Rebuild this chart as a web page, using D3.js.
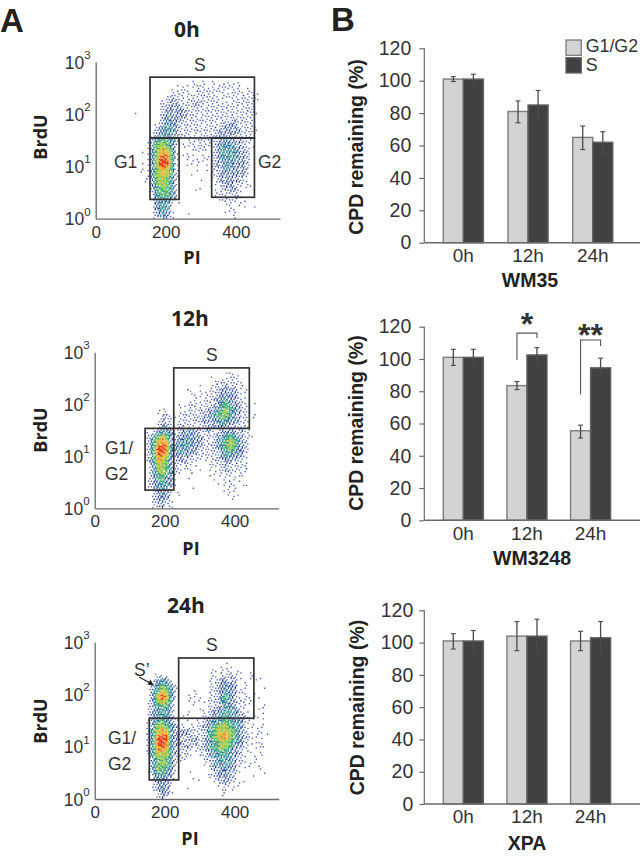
<!DOCTYPE html>
<html><head><meta charset="utf-8">
<script src="https://cdnjs.cloudflare.com/ajax/libs/d3/7.8.5/d3.min.js"></script>
<style>
html,body{margin:0;padding:0;background:#fff}
svg{display:block}
</style></head><body><svg id="c" width="640" height="858"></svg>
<script>
// ---------- bar chart data ----------
const timepoints = ["0h","12h","24h"];
const seriesNames = ["G1/G2","S"];
const wm35G = [101,81,65], wm35S = [101,85,62];
const wm35GLo = [99.5,74,57.5], wm35GHi = [102.5,87.5,72];
const wm35SLo = [97,76,55], wm35SHi = [104,94,68.5];
const wm3248G = [101,83.5,55.5], wm3248S = [101,102.5,94.5];
const wm3248GLo = [96,81,51], wm3248GHi = [106,86,59];
const wm3248SLo = [96,97.5,90], wm3248SHi = [106,107,100.5];
const xpaG = [101,104,101], xpaS = [101,104,103];
const xpaGLo = [96,95,95], xpaGHi = [105.5,113,107];
const xpaSLo = [94,94,94], xpaSHi = [107.5,114.5,113];
const yTicks = [0,20,40,60,80,100,120];
// ---------- flow gates [PI min, PI max, log BrdU min, log BrdU max] ----------
const gates0h = [[155,238,0.37,1.545],[155,453,1.545,2.71],[331,453,0.41,1.545]];
const gates12h = [[144,226,0.35,1.537],[226,442,1.537,2.70]];
const gates24h = [[156,240,0.365,1.546],[240,455,1.546,2.70]];
// ---------- flow density: rows top (log 2.76) to bottom (log 0.04),
// columns PI 110, 122, ... ; 0 = empty, 7 = hottest ----------
const density0h = [
"0000000000000000000000000000000000",
"0000000000000100001000000000000000",
"0000000000000010110101101000000000",
"0000000000101011111011110110100000",
"0000000001011101111111011101000000",
"0000000011110111111101111011110000",
"0000000112111111111111011111110000",
"0000001112211112111111111111110000",
"0000000122221111111111111111100000",
"0100000222222111111111111111110000",
"0000001222222111111111111111100000",
"0000001232221111111111112111100000",
"0000011233211111111111222111100000",
"0000012333211111111112222211110000",
"0000012333211111111122222211110000",
"0000123332111101111222222111000000",
"0000134443210111111122322211100000",
"0000245543101101111123332211000000",
"0000245654100011110123333221100000",
"0010246664101000100123333221000000",
"0001246764100110011123333221000000",
"0010247774100011100122332221100000",
"0000246764100100010122332221000000",
"0010245654100001001112322221000000",
"0000245654100010000112222221000000",
"0001145543100000100112222110000000",
"0000145543100100001012221211000000",
"0000134543100000000101222101000000",
"0000134443100001000011122110000000",
"0000034443100000000011111100000000",
"0000023332100000000001111010000000",
"0000023331000000000000110100000000",
"0000023331000000000000010010010000",
"0000013321000100000000101000000000",
"0000012321000000000000001000000000"];
const density12h = [
"0000000000000000000000000000000000",
"0000000000000000000000000000000000",
"0000000000000000000000010000000000",
"0000000000000000000100101100000000",
"0000000000000000000011111100000000",
"0000000000000000100111211010000000",
"0000000000000100010112222101000000",
"0000000000000010111112222110000000",
"0000000000000001011122322201000000",
"0000000000000011111123432110010000",
"0000000000011011111223443211000000",
"0000001010001111112234543211000000",
"0000000121011111122344542211010000",
"0000000211111111222234432211000000",
"0000001212011111121223322111000000",
"0000001321021111112222212111000000",
"0000012332112222112112222121100000",
"0000134543122322211122343221100000",
"0000245651223332211123454321000000",
"0001246663233332211123455321000000",
"0000247763333322111123454321000000",
"0000247763233222111112343221000000",
"0000246653222211111112332211000000",
"0000246642122111101111221211000000",
"0000135542111101000111211111000000",
"0000135543110100100101211101000000",
"0000134533110010001011111010000000",
"0000124432100100000101101010000000",
"0000123432100000000010110100000000",
"0000123332100010000001011001000000",
"0000012321000000000000101000000000",
"0000012321010000000000010100000000",
"0000012221000000000000001000000000",
"0000012211000000000000000000000000",
"0000011211000000000000000000000000"];
const density24h = [
"0000000000000000000000000000000000",
"0000000000000000000000000000000000",
"0000000000000000000000100000000000",
"0000000000000000000001010010000000",
"0000000000000000000101110100000000",
"0000001110000000000101121000100000",
"0000012321000000001012212010011000",
"0000023432000000000112322101010000",
"0000034543100000000122322110000100",
"0000134653100101001112332110010000",
"0000136763100010100123432101001000",
"0000135653000101011123422110100000",
"0000134543000010001112332111000100",
"0001123432000000101122332210001000",
"0000123432000100011223433211010100",
"0000123332101001011233432221010000",
"0000134432100100112334443321100100",
"0000135543211010122345543321010100",
"0000245653212211123455554321101000",
"0001246663222211123456654321011010",
"0000247773211122123456654322100100",
"0000247763222112112345543321101000",
"0000246763211211123445543211010100",
"0000246653211101112344432211101000",
"0000245553121100112333432210100100",
"0000134543111000011233332110010000",
"0000134543100100011233332110100000",
"0000135443100000001222322101001000",
"0000134432100010000122321110000100",
"0000023332000000001122221000010000",
"0000012321000001000112211010000000",
"0000012221000000000011210100000000",
"0000012321000100000001101000000000",
"0000001221000000000000100000000000",
"0000001210000000000000100000000000"];
const levelColors = ["#ffffff","#5267b4","#27408f","#2a7f9e","#46b082","#a4cf45","#f2b233","#e63b1f"];
const flowXTicks = [0,200,400];
const flowYTicks = [0,1,2,3];

const svg = d3.select("#c");
const defs = svg.append("defs");
defs.append("filter").attr("id","soft").append("feGaussianBlur").attr("stdDeviation",0.3);
const LIB = "'Liberation Sans',Arial,sans-serif", OPEN = "'Open Sans',sans-serif";
const INK = "#333335", AXIS = "#6a6a6a";

function label(g,x,y,t,size,opts={}){
  return g.append("text").attr("x",x).attr("y",y).text(t)
    .attr("font-family",opts.family||LIB).attr("font-size",size)
    .attr("font-weight",opts.bold?"700":"400").attr("fill",opts.fill||INK)
    .attr("text-anchor",opts.anchor||"start")
    .attr("transform",opts.rotate?`rotate(-90 ${x} ${y})`:null);
}

// fixed (non-random) dither threshold from a low-discrepancy lattice
const frac = v => v-Math.floor(v);

function flowPanel(o,density,gates,title){
  const g = svg.append("g");
  const x = d3.scaleLinear().domain([0,526]).range([o.left,o.right]);
  const y = d3.scaleLinear().domain([0,3]).range([o.bottom,o.top]);
  const at = (r,c)=>{const row=density[r]; return row&&row[c]?+row[c]:0;};
  const paths = levelColors.map(()=>[]);
  const STEP = 3; // sub-cells per table cell
  for(let fr=0;fr<STEP*density.length;fr++){
    for(let fc=0;fc<density[0].length*STEP;fc++){
      const r=fr/STEP-0.33, c=fc/STEP-0.33;
      const r0=Math.floor(r), c0=Math.floor(c), tr=r-r0, tc=c-c0;
      const v=(1-tr)*(1-tc)*at(r0,c0)+(1-tr)*tc*at(r0,c0+1)+tr*(1-tc)*at(r0+1,c0)+tr*tc*at(r0+1,c0+1);
      if(v<=0) continue;
      const t1=frac(fr*0.7548777+fc*0.5698403);
      const t2=frac(fr*0.3247+fc*0.8191);
      if(t1>=Math.min(1,Math.pow(v/4.5,1.15))) continue;
      const lv=Math.max(1,Math.min(7,Math.round(v+(t2-0.5)*1.5)));
      const px0=x(104+fc*4), px1=x(104+(fc+1)*4), py0=y(2.8-fr*0.08/STEP), py1=y(2.8-(fr+1)*0.08/STEP);
      paths[lv].push(`M${px0.toFixed(2)},${py0.toFixed(2)}H${px1.toFixed(2)}V${py1.toFixed(2)}H${px0.toFixed(2)}Z`);
    }
  }
  const dots = g.append("g").attr("filter","url(#soft)");
  paths.forEach((d,i)=>{ if(d.length) dots.append("path").attr("d",d.join("")).attr("fill",levelColors[i]); });
  const ax = g.append("g").attr("transform",`translate(0,${o.bottom})`)
    .call(d3.axisBottom(x).tickValues(flowXTicks).tickSize(0).tickPadding(7));
  ax.selectAll("text").attr("font-family",LIB).attr("font-size",17).attr("fill",INK);
  ax.select(".domain").attr("stroke",AXIS).attr("stroke-width",1.3);
  const ay = g.append("g").attr("transform",`translate(${o.left},0)`)
    .call(d3.axisLeft(y).tickValues(flowYTicks).tickSize(0).tickPadding(0).tickFormat(""));
  ay.select(".domain").attr("stroke",AXIS).attr("stroke-width",1.3);
  ay.selectAll(".tick text").each(function(d){
    const t = d3.select(this).attr("font-family",LIB).attr("font-size",17.5).attr("fill",INK)
      .attr("x",-5).attr("dy","0.35em");
    t.append("tspan").text("10");
    t.append("tspan").text(d).attr("font-size",11.5).attr("dy","-0.85em");
  });
  gates.forEach(b=>{
    g.append("rect").attr("x",x(b[0])).attr("width",x(b[1])-x(b[0]))
      .attr("y",y(b[3])).attr("height",y(b[2])-y(b[3]))
      .attr("fill","none").attr("stroke","#333335").attr("stroke-width",1.7);
  });
  label(g,o.titleX,o.titleY,title,21,{family:OPEN,bold:true,anchor:"middle",fill:"#222"});
  label(g,o.brduX,o.brduY,"BrdU",18,{family:OPEN,bold:true,anchor:"middle",rotate:true,fill:"#222"});
  label(g,o.piX,o.piY,"PI",18,{family:OPEN,bold:true,anchor:"middle",fill:"#222"});
  (o.texts||[]).forEach(t=>label(g,t[0],t[1],t[2],17.5));
  return g;
}

const p0 = flowPanel({left:95.7,right:280,top:62,bottom:218.7,titleX:187,titleY:37,brduX:46.5,brduY:137,piX:192,piY:264,
  texts:[[194,71,"S"],[114,168,"G1"],[258,168,"G2"]]},density0h,gates0h,"0h");
const p1 = flowPanel({left:94.7,right:278.7,top:352.3,bottom:508.3,titleX:190,titleY:326,brduX:46.5,brduY:430,piX:191,piY:555,
  texts:[[206,361,"S"],[105,454,"G1/"],[105,480,"G2"]]},density12h,gates12h,"12h");
const p2 = flowPanel({left:94.7,right:278.7,top:642.3,bottom:799,titleX:186,titleY:613,brduX:46.5,brduY:721,piX:190,piY:845,
  texts:[[206,651,"S"],[108,744,"G1/"],[108,770,"G2"],[134,676,"S’"]]},density24h,gates24h,"24h");
// S' arrow
p2.append("line").attr("x1",139).attr("y1",677).attr("x2",151).attr("y2",683.5).attr("stroke","#222").attr("stroke-width",1.1);
p2.append("path").attr("d","M154,686 L147.5,684.5 L150.5,679.5 Z").attr("fill","#222");

function barPanel(o,G,S,GLo,GHi,SLo,SHi,name){
  const g = svg.append("g");
  const x = d3.scaleBand().domain(timepoints).range([443.3,o.barEnd]).paddingInner(o.pad);
  const x1 = d3.scaleBand().domain(seriesNames).range([0,x.bandwidth()]);
  const y = d3.scaleLinear().domain([0,120]).range([o.zero,o.top]);
  const fills = {"G1/G2":"#d1d3d4","S":"#414042"};
  const strokes = {"G1/G2":"#7d7d7d","S":"#636363"};
  const sets = [[seriesNames[0],G,GLo,GHi],[seriesNames[1],S,SLo,SHi]];
  sets.forEach(([n,vals])=>{
    timepoints.forEach((t,i)=>{
      g.append("rect").attr("x",x(t)+x1(n)).attr("width",x1.bandwidth())
        .attr("y",y(vals[i])).attr("height",y(0)-y(vals[i]))
        .attr("fill",fills[n]).attr("stroke",strokes[n]).attr("stroke-width",1.4);
    });
  });
  sets.forEach(([n,vals,lo,hi])=>{
    timepoints.forEach((t,i)=>{
      const cx = x(t)+x1(n)+x1.bandwidth()/2;
      const col = "#4a4a4c";
      g.append("line").attr("x1",cx).attr("x2",cx).attr("y1",y(lo[i])).attr("y2",y(hi[i])).attr("stroke",col).attr("stroke-width",1.3);
      [lo[i],hi[i]].forEach(v=>g.append("line").attr("x1",cx-2.5).attr("x2",cx+2.5).attr("y1",y(v)).attr("y2",y(v)).attr("stroke",col).attr("stroke-width",1.1));
    });
  });
  const ay = g.append("g").attr("transform",`translate(424.3,0)`)
    .call(d3.axisLeft(y).tickValues(yTicks).tickSize(5).tickPadding(o.yPad));
  ay.selectAll("text").attr("font-family",LIB).attr("font-size",19.5).attr("fill",INK);
  ay.selectAll("line").attr("stroke",AXIS).attr("stroke-width",1.2);
  ay.select(".domain").attr("stroke",AXIS).attr("stroke-width",1.2).attr("d",`M0,${y(120)}V${y(0)}`);
  const ax = g.append("g").attr("transform",`translate(0,${o.zero})`)
    .call(d3.axisBottom(x).tickSize(0).tickPadding(o.xPad));
  ax.selectAll("text").attr("font-family",LIB).attr("font-size",19).attr("fill",INK);
  ax.select(".domain").attr("stroke",AXIS).attr("stroke-width",1.4).attr("d","M424.3,0H640");
  label(g,o.ylabX,o.ylabY,"CPD remaining (%)",19.5,{bold:true,anchor:"middle",rotate:true,fill:"#222"});
  label(g,o.nameX,o.nameY,name,19.5,{bold:true,anchor:"middle",fill:"#222"});
  return {g,x,x1,y};
}
const b0 = barPanel({top:48.3,zero:242.7,barEnd:612.8,pad:0.38,yPad:8,xPad:6,ylabX:363,ylabY:147,nameX:530,nameY:287},wm35G,wm35S,wm35GLo,wm35GHi,wm35SLo,wm35SHi,"WM35");
const b1 = barPanel({top:326.7,zero:520.3,barEnd:610.6,pad:0.37,yPad:8,xPad:6,ylabX:362.7,ylabY:423,nameX:532,nameY:564.5},wm3248G,wm3248S,wm3248GLo,wm3248GHi,wm3248SLo,wm3248SHi,"WM3248");
const b2 = barPanel({top:610.3,zero:804,barEnd:610.6,pad:0.37,yPad:6,xPad:6,ylabX:364,ylabY:707.5,nameX:527,nameY:850},xpaG,xpaS,xpaGLo,xpaGHi,xpaSLo,xpaSHi,"XPA");

// legend
[["#d1d3d4","#7d7d7d",40,52.2],["#414042","#636363",57.7,70.5]].forEach((l,i)=>{
  svg.append("rect").attr("x",566).attr("y",l[2]).attr("width",15.3).attr("height",15.3)
    .attr("fill",l[0]).attr("stroke",l[1]).attr("stroke-width",1.3);
  label(svg,585.7,l[3],seriesNames[i],17.8);
});

// significance brackets (left foot, top, right foot in CPD %)
const sigBrackets = [["12h",99.4,116,113,"*"],["24h",78,111.8,108,"**"]];
sigBrackets.forEach(([t,l,top,r,mark])=>{
  const {g,x,y} = b1;
  const x0 = x(t)+x.bandwidth()/4, x1p = x(t)+x.bandwidth()*3/4;
  g.append("path").attr("d",`M${x0},${y(l)}V${y(top)}H${x1p}V${y(r)}`).attr("fill","none").attr("stroke","#555").attr("stroke-width",1.1);
  label(g,(x0+x1p)/2,y(top)+ (mark.length>1?6:2),mark,32,{anchor:"middle",bold:true,fill:"#333"});
});

// panel letters
label(svg,0,32,"A",33,{bold:true,fill:"#222"});
label(svg,331,31,"B",33,{bold:true,fill:"#222"});
</script></body></html>
